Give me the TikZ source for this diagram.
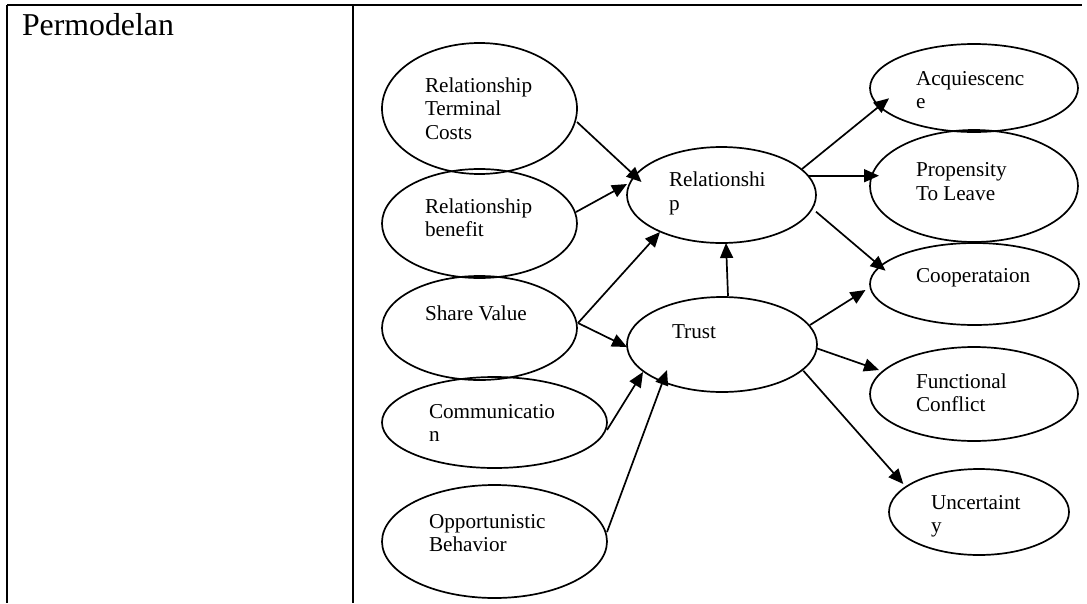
\documentclass[tikz,border=0pt]{standalone}
\usepackage{fontspec}
\setmainfont{Liberation Serif}
\usetikzlibrary{arrows.meta,calc,shapes.geometric}
\newcommand{\mlines}[1]{\begin{tabular}[t]{@{}l@{}}#1\end{tabular}}
\begin{document}
\begin{tikzpicture}[x=1pt,y=-1pt,
  ell/.style={draw, ellipse, line width=1.7pt, inner sep=0pt, outer sep=0pt},
  txt/.style={anchor=base west, inner sep=0pt, outer sep=0pt, font=\fontsize{21.2}{23.8}\selectfont},
  head/.style={anchor=base west, inner sep=0pt, outer sep=0pt, font=\fontsize{31.8}{36}\selectfont},
  arr/.style={line width=1.7pt, -{Triangle[length=15pt,width=13pt]}},
  tabline/.style={line width=2pt}]
\useasboundingbox (0,0) rectangle (1087,603);

% table rules
\draw[tabline] (7,5) -- (1082,5);
\draw[tabline] (7,5) -- (7,603);
\draw[tabline] (353,5) -- (353,603);
\node[head] (title) at (22,35.5) {Permodelan};

% ellipses
\node[ell, minimum width=195pt, minimum height=131pt] (rtc) at (479.5,108.5) {};
\node[ell, minimum width=195pt, minimum height=109pt] (rb)  at (479.5,223.5) {};
\node[ell, minimum width=195pt, minimum height=104pt] (sv)  at (479.5,328) {};
\node[ell, minimum width=225pt, minimum height=91pt]  (com) at (494.5,422.5) {};
\node[ell, minimum width=225pt, minimum height=113pt] (opp) at (494.5,541.5) {};
\node[ell, minimum width=189pt, minimum height=96pt]  (rel) at (721.5,195) {};
\node[ell, minimum width=190pt, minimum height=95pt]  (tru) at (722,344.5) {};
\node[ell, minimum width=208pt, minimum height=88pt]  (acq) at (974,88) {};
\node[ell, minimum width=208pt, minimum height=112pt] (pro) at (974,186) {};
\node[ell, minimum width=209pt, minimum height=82pt]  (coo) at (974.5,284) {};
\node[ell, minimum width=208pt, minimum height=94pt]  (fun) at (974,394) {};
\node[ell, minimum width=180pt, minimum height=86pt]  (unc) at (979,512) {};

% texts
\node[txt] (rtc-t) at (425,92)  {\mlines{Relationship\\Terminal\\Costs}};
\node[txt] (rb-t)  at (425,213) {\mlines{Relationship\\benefit}};
\node[txt] (sv-t)  at (425,320) {Share Value};
\node[txt] (com-t) at (429,418) {\mlines{Communicatio\\n}};
\node[txt] (opp-t) at (429,528) {\mlines{Opportunistic\\Behavior}};
\node[txt] (rel-t) at (669,186.5) {\mlines{Relationshi\\p}};
\node[txt] (tru-t) at (672,338) {Trust};
\node[txt] (acq-t) at (916,85)  {\mlines{Acquiescenc\\e}};
\node[txt] (pro-t) at (916,176.5) {\mlines{Propensity\\To Leave}};
\node[txt] (coo-t) at (916,282) {Cooperataion};
\node[txt] (fun-t) at (916,388) {\mlines{Functional\\Conflict}};
\node[txt] (unc-t) at (931,509) {\mlines{Uncertaint\\y}};

% connectors
\draw[arr] ($(rtc.center)+(97.5,13.5)$) -- ($(rel.center)+(-80,-13)$);
\draw[arr] ($(rb.center)+(96.5,-11.5)$) -- ($(rel.center)+(-94.5,-11)$);
\draw[arr] ($(sv.center)+(98.5,-5)$) -- ($(rel.center)+(-61.5,37)$);
\draw[arr] ($(sv.center)+(98.5,-5)$) -- ($(tru.center)+(-95,2.5)$);
\draw[arr] ($(com.center)+(112.5,7.5)$) -- ($(tru.center)+(-79,27.5)$);
\draw[arr] ($(opp.center)+(112.5,-9.5)$) -- ($(tru.center)+(-55,25.5)$);
\draw[arr] ($(tru.center)+(6,-48.5)$) -- ($(rel.center)+(4.5,48)$);
\draw[arr] ($(rel.center)+(80.5,-26)$) -- ($(acq.center)+(-85,10.3)$);
\draw[arr] ($(rel.center)+(87.5,-19.3)$) -- ($(pro.center)+(-95,-10.3)$);
\draw[arr] ($(rel.center)+(94.5,16.7)$) -- ($(coo.center)+(-89,-13.3)$);
\draw[arr] ($(tru.center)+(88,-19.5)$) -- ($(coo.center)+(-109,6)$);
\draw[arr] ($(tru.center)+(94.7,3.8)$) -- ($(fun.center)+(-95,-24)$);
\draw[arr] ($(tru.center)+(81.3,26.2)$) -- ($(unc.center)+(-75.7,-28)$);
\end{tikzpicture}
\end{document}
